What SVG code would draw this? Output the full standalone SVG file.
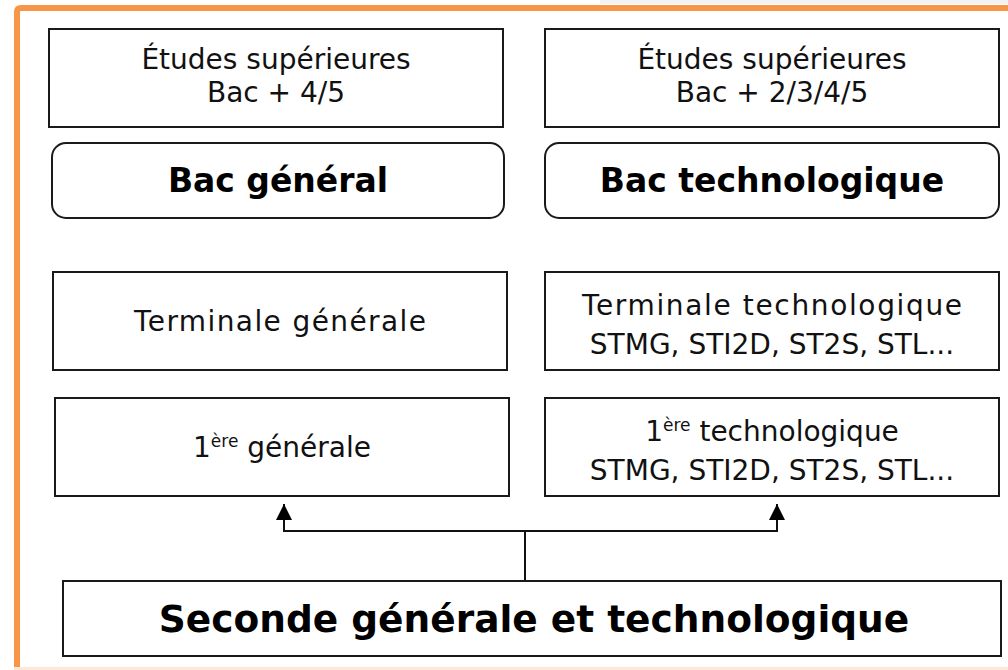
<svg xmlns="http://www.w3.org/2000/svg" width="1008" height="670" viewBox="0 0 1008 670">
<style>
.box{fill:#fff;stroke:#1a1a1a;stroke-width:2}
.t{font-family:"DejaVu Sans","Liberation Sans",sans-serif;font-size:28px;fill:#111;text-anchor:middle}
.b{font-family:"DejaVu Sans","Liberation Sans",sans-serif;font-size:33px;font-weight:bold;fill:#000;text-anchor:middle}
.big{font-size:37.5px}
.sup{font-size:17px}
.ln{fill:none;stroke:#111;stroke-width:2}
</style>
<defs>
<marker id="arr" viewBox="0 0 16 16" refX="16" refY="8" markerWidth="16" markerHeight="16" markerUnits="userSpaceOnUse" orient="auto">
<path d="M0,0 L16,8 L0,16 Z" fill="#000"/>
</marker>
</defs>
<rect x="0" y="0" width="1008" height="670" fill="#fff"/>
<rect x="600" y="0" width="408" height="4" fill="#f2f2f2"/>
<rect x="14" y="667" width="994" height="3" fill="#fce9da"/>
<path d="M17,667 V12 Q17,8 21,8 H1008" fill="none" stroke="#f79646" stroke-width="6"/>

<g id="etudes-general">
<rect class="box" x="49" y="29" width="454" height="98"/>
<text class="t" x="276" y="69">Études supérieures</text>
<text class="t" x="276" y="102">Bac + 4/5</text>
</g>
<g id="etudes-techno">
<rect class="box" x="545" y="29" width="454" height="98"/>
<text class="t" x="772" y="69">Études supérieures</text>
<text class="t" x="772" y="102">Bac + 2/3/4/5</text>
</g>
<g id="bac-general">
<rect class="box" x="52" y="143" width="452" height="75" rx="14"/>
<text class="b" x="278" y="192">Bac général</text>
</g>
<g id="bac-techno">
<rect class="box" x="545" y="143" width="454" height="75" rx="14"/>
<text class="b" x="772" y="192">Bac technologique</text>
</g>
<g id="terminale-general">
<rect class="box" x="53" y="272" width="454" height="98"/>
<text class="t" x="280" y="331" textLength="292">Terminale générale</text>
</g>
<g id="terminale-techno">
<rect class="box" x="545" y="272" width="454" height="98"/>
<text class="t" x="772" y="315" textLength="380">Terminale technologique</text>
<text class="t" x="772" y="354">STMG, STI2D, ST2S, STL...</text>
</g>
<g id="premiere-general">
<rect class="box" x="55" y="398" width="454" height="98"/>
<text class="t" x="282" y="457">1<tspan class="sup" dy="-10">ère</tspan><tspan dy="10"> générale</tspan></text>
</g>
<g id="premiere-techno">
<rect class="box" x="545" y="398" width="454" height="98"/>
<text class="t" x="772" y="441">1<tspan class="sup" dy="-10">ère</tspan><tspan dy="10"> technologique</tspan></text>
<text class="t" x="772" y="480">STMG, STI2D, ST2S, STL...</text>
</g>
<g id="seconde">
<rect class="box" x="63" y="581" width="938" height="75"/>
<text class="b big" x="534" y="632">Seconde générale et technologique</text>
</g>
<g id="connectors">
<path class="ln" d="M525,580 V531"/>
<path class="ln" d="M525,531 H284 V504" marker-end="url(#arr)"/>
<path class="ln" d="M525,531 H777 V504" marker-end="url(#arr)"/>
</g>
</svg>
